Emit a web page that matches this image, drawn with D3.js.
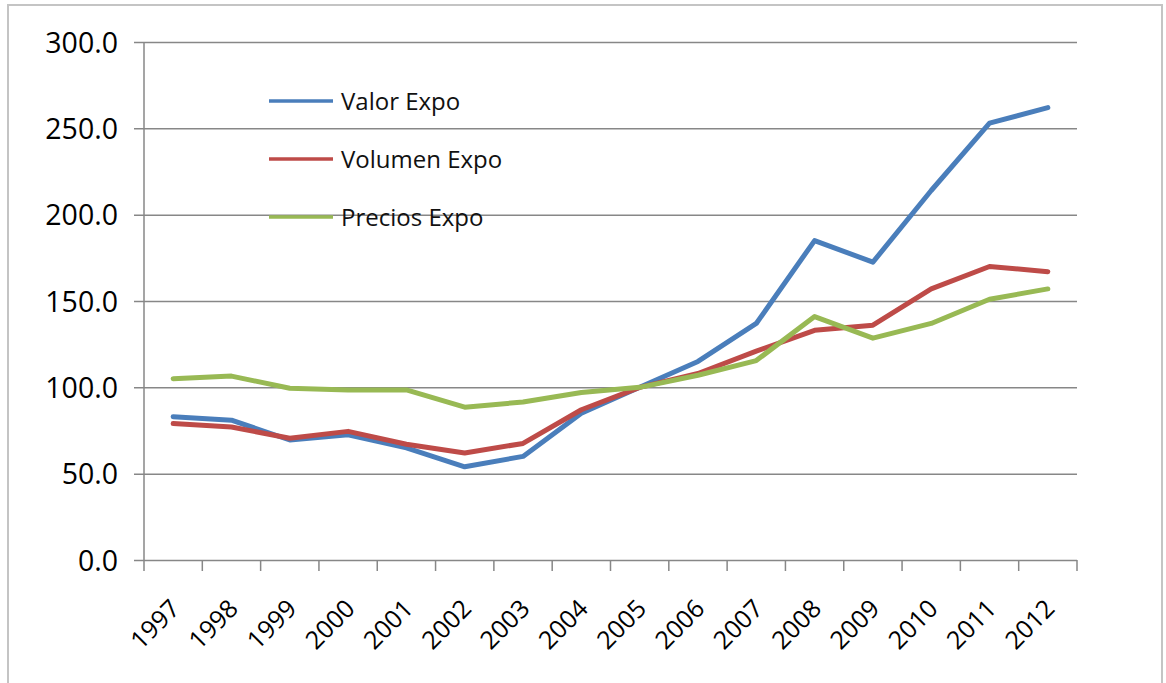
<!DOCTYPE html>
<html>
<head>
<meta charset="utf-8">
<script src="https://cdn.jsdelivr.net/npm/d3@7"></script>
<style>
  body { margin: 0; background: #fff; }
  svg, svg text { font-family: "Open Sans", Lato, sans-serif; }
</style>
</head>
<body>
<svg id="chart" width="1166" height="683"></svg>
<script>
// data
var years = ["1997","1998","1999","2000","2001","2002","2003","2004","2005","2006","2007","2008","2009","2010","2011","2012"];
var valorExpo   = [83, 81, 69.5, 72.5, 65, 54, 60, 85, 100, 115, 137, 185, 172.5, 214, 253, 262];
var volumenExpo = [79, 77, 70.5, 74.5, 67, 62, 67.5, 87, 100, 108, 121, 133, 136, 157, 170, 167];
var preciosExpo = [105, 106.5, 99.5, 98.5, 98.5, 88.5, 91.5, 97, 100, 107, 115.5, 141, 128.5, 137, 151, 157];
var yTicks = [0, 50, 100, 150, 200, 250, 300];

var series = [
  { name: "Valor Expo",   values: valorExpo,   color: "#4a7ebb" },
  { name: "Volumen Expo", values: volumenExpo, color: "#be4b48" },
  { name: "Precios Expo", values: preciosExpo, color: "#98b954" }
];

var svg = d3.select("#chart");

// outer chart frame
svg.append("rect")
  .attr("x", 8).attr("y", 5)
  .attr("width", 1154).attr("height", 700)
  .attr("fill", "none")
  .attr("stroke", "#c4c4c4")
  .attr("stroke-width", 2);

// plot area (note: "top" is reserved on window, so use a margin object)
var plot = { left: 144, right: 1077, top: 42, bottom: 560 };

var x = d3.scaleBand().domain(years).range([plot.left, plot.right]);
var y = d3.scaleLinear().domain([0, 300]).range([plot.bottom, plot.top]);

// gridlines + y axis
var yAxis = d3.axisLeft(y)
  .tickValues(yTicks)
  .tickSize(-(plot.right - plot.left) - 10)
  .tickFormat(d3.format(".1f"));

var gy = svg.append("g")
  .attr("transform", "translate(" + (plot.left - 10) + ",0)")
  .call(yAxis)
  .attr("font-family", null);
gy.select(".domain").remove();
gy.selectAll(".tick line")
  .attr("stroke", "#878787")
  .attr("stroke-width", 1.5);
gy.selectAll(".tick text")
  .attr("x", -16)
  .attr("dy", "0.36em")
  .attr("font-size", 28.5)
  .attr("fill", "#000");

// vertical axis line
svg.append("line")
  .attr("x1", plot.left).attr("x2", plot.left)
  .attr("y1", plot.top).attr("y2", plot.bottom)
  .attr("stroke", "#878787")
  .attr("stroke-width", 1.5);

// x axis ticks at band edges
var gx = svg.append("g");
gx.selectAll("line")
  .data(years.concat(["end"]))
  .enter()
  .append("line")
    .attr("x1", function(d, i){ return plot.left + i * x.step() })
    .attr("x2", function(d, i){ return plot.left + i * x.step() })
    .attr("y1", plot.bottom)
    .attr("y2", plot.bottom + 11)
    .attr("stroke", "#878787")
    .attr("stroke-width", 1.5);

gx.selectAll("text")
  .data(years)
  .enter()
  .append("text")
    .attr("transform", function(d){
      return "translate(" + (x(d) + x.bandwidth() / 2 - 5) + "," + (plot.bottom + 37) + ") rotate(-45)";
    })
    .attr("text-anchor", "end")
    .attr("dy", "0.75em")
    .attr("font-size", 25)
    .attr("fill", "#000")
    .text(function(d){ return d });

// lines
var line = d3.line()
  .x(function(d, i){ return x(years[i]) + x.bandwidth() / 2 })
  .y(function(d){ return y(d) });

svg.selectAll(".series")
  .data(series)
  .enter()
  .append("path")
    .attr("class", "series")
    .attr("d", function(d){ return line(d.values) })
    .attr("fill", "none")
    .attr("stroke", function(d){ return d.color })
    .attr("stroke-width", 5)
    .attr("stroke-linejoin", "round")
    .attr("stroke-linecap", "round");

// legend
var legend = svg.selectAll(".legend")
  .data(series)
  .enter()
  .append("g")
    .attr("class", "legend")
    .attr("transform", function(d, i){ return "translate(269," + (101 + i * 58) + ")" });

legend.append("line")
  .attr("x1", 0).attr("x2", 64)
  .attr("stroke", function(d){ return d.color })
  .attr("stroke-width", 3.5);

legend.append("text")
  .attr("x", 72)
  .attr("dy", "0.36em")
  .attr("font-size", 24)
  .attr("fill", "#111")
  .text(function(d){ return d.name });
</script>
</body>
</html>
